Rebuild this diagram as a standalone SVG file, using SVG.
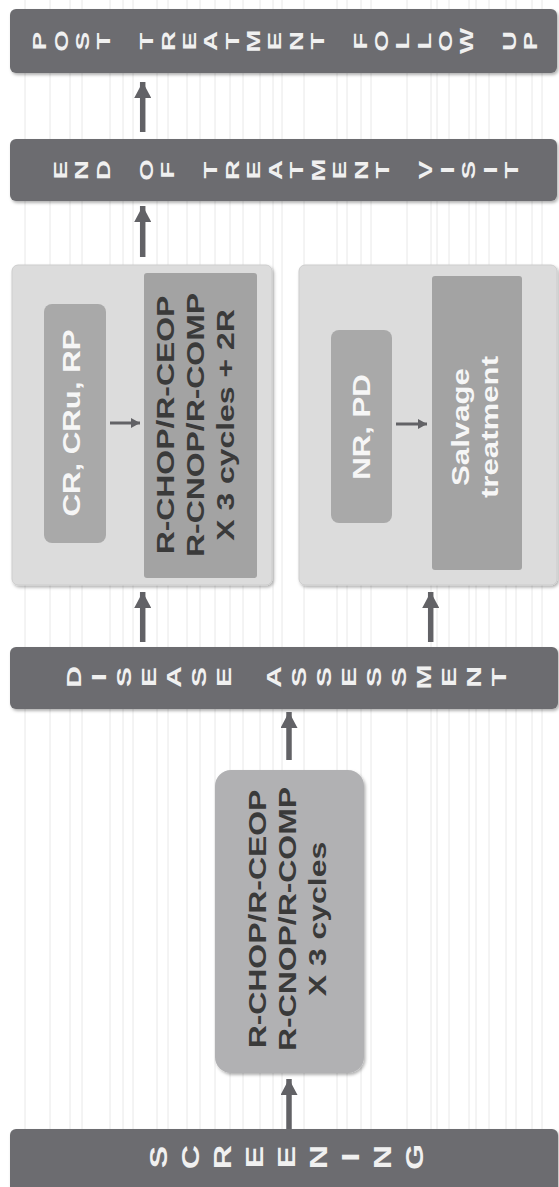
<svg xmlns="http://www.w3.org/2000/svg" width="559" height="1187" viewBox="0 0 559 1187">
<defs>
<style>
.bar{fill:#6c6c70}
.bt{fill:#f0f0f0;font-family:"Liberation Sans",Arial,sans-serif;font-weight:bold;text-anchor:middle;dominant-baseline:central}
.panel{fill:#dcdcdc;stroke:#cdcdcd;stroke-width:1}
.box{fill:#a9a9a9}
.box2{fill:#a3a3a3}
.tw{fill:#f6f6f6;font-family:"Liberation Sans",Arial,sans-serif;font-weight:bold;font-size:24px;text-anchor:middle;dominant-baseline:central}
.td{fill:#3a3a3a;font-family:"Liberation Sans",Arial,sans-serif;font-weight:bold;font-size:24px;text-anchor:middle;dominant-baseline:central}
.arr{stroke:#626266;stroke-width:5.5;fill:none}
.sarr{stroke:#626266;stroke-width:3;fill:none}
</style>
<marker id="ah" markerUnits="userSpaceOnUse" markerWidth="17" markerHeight="17" refX="16" refY="8.5" orient="auto"><path d="M0,0 L16,8.5 L0,17 Z" fill="#626266"/></marker>
<marker id="sh" markerUnits="userSpaceOnUse" markerWidth="10" markerHeight="10" refX="9" refY="5" orient="auto"><path d="M0,0 L9,5 L0,10 Z" fill="#626266"/></marker>
<filter id="shd" x="-10%" y="-10%" width="130%" height="130%"><feDropShadow dx="1.5" dy="2" stdDeviation="1.5" flood-color="#000" flood-opacity="0.3"/></filter>
</defs>
<rect x="0" y="0" width="559" height="1187" fill="#ffffff"/>
<g id="background">
<path d="M25 0V1187M50 0V1187M70 0V1187M82 0V1187M110 0V1187M123 0V1187M133 0V1187M157 0V1187M168 0V1187M187 0V1187M200 0V1187M215 0V1187M230 0V1187M243 0V1187M260 0V1187M273 0V1187M282 0V1187M304 0V1187M337 0V1187M347 0V1187M361 0V1187M371 0V1187M407 0V1187M431 0V1187M437 0V1187M449 0V1187M469 0V1187M476 0V1187M489 0V1187M506 0V1187M516 0V1187M532 0V1187M542 0V1187" stroke="#e8e8e8" stroke-width="1"/>
</g>
<g id="post-treatment-follow-up">
<rect class="bar" x="10" y="9" width="547" height="64" rx="6" filter="url(#shd)"/>
<text class="bt" font-size="19" transform="translate(40 41) rotate(-90) scale(1.45 1)" x="0 0 0 0 0 0 0 0 0 0 0 0 0 0 0 0 0 0 0 0 0 0 0 0" y="0 21.35 42.7 64.05 85.4 106.75 128.1 149.45 170.8 192.15 213.5 234.85 256.2 277.55 298.9 320.25 341.6 362.95 384.3 405.65 427 448.35 469.7 491.05">POST TREATMENT FOLLOW UP</text>
</g>
<g id="end-of-treatment-visit">
<rect class="bar" x="10" y="139" width="547" height="62" rx="6" filter="url(#shd)"/>
<text class="bt" font-size="19" transform="translate(60.5 170) rotate(-90) scale(1.45 1)" x="0 0 0 0 0 0 0 0 0 0 0 0 0 0 0 0 0 0 0 0 0 0" y="0 21.5 43 64.5 86 107.5 129 150.5 172 193.5 215 236.5 258 279.5 301 322.5 344 365.5 387 408.5 430 451.5">END OF TREATMENT VISIT</text>
</g>
<g id="responders">
<rect class="panel" x="12" y="265" width="260" height="320" rx="6" filter="url(#shd)"/>
<g id="cr-cru-rp">
<rect class="box" x="44" y="304" width="62" height="239" rx="8"/>
<text class="tw" transform="translate(72 423) rotate(-90) scale(1.3 1)" x="0" y="0">CR, CRu, RP</text>
</g>
<g id="consolidation">
<rect class="box2" x="144" y="273" width="113" height="305" rx="3"/>
<text class="td" transform="translate(0 425) rotate(-90) scale(1.33 1)" x="0" y="166">R-CHOP/R-CEOP</text>
<text class="td" transform="translate(0 425) rotate(-90) scale(1.33 1)" x="0" y="196">R-CNOP/R-COMP</text>
<text class="td" transform="translate(0 425) rotate(-90) scale(1.33 1)" x="0" y="226">X 3 cycles + 2R</text>
</g>
</g>
<g id="non-responders">
<rect class="panel" x="299" y="265" width="258" height="320" rx="6" filter="url(#shd)"/>
<g id="nr-pd">
<rect class="box" x="331" y="330" width="61" height="193" rx="8"/>
<text class="tw" transform="translate(362 427) rotate(-90) scale(1.3 1)" x="0" y="0">NR, PD</text>
</g>
<g id="salvage">
<rect class="box2" x="432" y="276" width="90" height="294" rx="3"/>
<text class="tw" transform="translate(0 427) rotate(-90) scale(1.3 1)" x="0" y="461">Salvage</text>
<text class="tw" transform="translate(0 427) rotate(-90) scale(1.3 1)" x="0" y="490">treatment</text>
</g>
</g>
<g id="disease-assessment">
<rect class="bar" x="10" y="647" width="548" height="62" rx="6" filter="url(#shd)"/>
<text class="bt" font-size="20" transform="translate(74 677) rotate(-90) scale(1.5 1)" x="0 0 0 0 0 0 0 0 0 0 0 0 0 0 0 0 0 0" y="0 25 50 75 100 125 150 175 200 225 250 275 300 325 350 375 400 425">DISEASE ASSESSMENT</text>
</g>
<g id="induction">
<rect x="215" y="770" width="149" height="303" rx="16" fill="#b1b1b3" filter="url(#shd)"/>
<text class="td" transform="translate(0 919) rotate(-90) scale(1.33 1)" x="0" y="257.5">R-CHOP/R-CEOP</text>
<text class="td" transform="translate(0 919) rotate(-90) scale(1.33 1)" x="0" y="287.5">R-CNOP/R-COMP</text>
<text class="td" transform="translate(0 919) rotate(-90) scale(1.33 1)" x="0" y="317.5">X 3 cycles</text>
</g>
<g id="screening">
<rect class="bar" x="10" y="1129" width="548" height="70" rx="6" filter="url(#shd)"/>
<text class="bt" font-size="24" transform="translate(159 1157) rotate(-90) scale(1.4 1)" x="0 0 0 0 0 0 0 0 0" y="0 32 64 96 128 160 192 224 256">SCREENING</text>
</g>
<g id="connectors">
<line class="arr" x1="142.7" y1="132" x2="142.7" y2="82" marker-end="url(#ah)"/>
<line class="arr" x1="142.7" y1="257" x2="142.7" y2="206" marker-end="url(#ah)"/>
<line class="arr" x1="142.7" y1="642" x2="142.7" y2="592" marker-end="url(#ah)"/>
<line class="arr" x1="430.7" y1="642" x2="430.7" y2="592" marker-end="url(#ah)"/>
<line class="arr" x1="289" y1="760" x2="289" y2="712" marker-end="url(#ah)"/>
<line class="arr" x1="289" y1="1129" x2="289" y2="1079" marker-end="url(#ah)"/>
<line class="sarr" x1="110" y1="423" x2="140" y2="423" marker-end="url(#sh)"/>
<line class="sarr" x1="396" y1="424" x2="427" y2="424" marker-end="url(#sh)"/>
</g>
</svg>
